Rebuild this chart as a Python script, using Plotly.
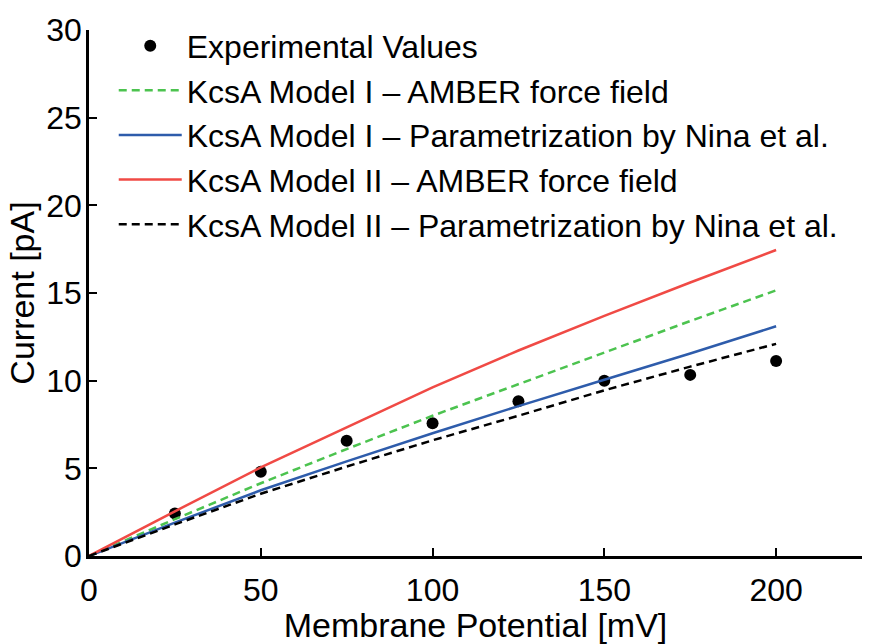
import plotly.graph_objects as go

potential_exp = [25, 50, 75, 100, 125, 150, 175, 200]
current_exp = [2.42, 4.8, 6.57, 7.57, 8.83, 10.0, 10.33, 11.12]

potential_model = [0, 25, 50, 75, 100, 125, 150, 175, 200]
model1_amber = [0, 2.1, 4.15, 6.1, 8.0, 9.8, 11.6, 13.4, 15.15]
model1_nina = [0, 1.9, 3.75, 5.4, 7.0, 8.55, 10.05, 11.55, 13.1]
model2_amber = [0, 2.55, 5.05, 7.35, 9.62, 11.72, 13.7, 15.6, 17.45]
model2_nina = [0, 1.8, 3.55, 5.1, 6.6, 8.0, 9.45, 10.8, 12.1]

names = ["Experimental Values",
         "KcsA Model I \u2013 AMBER force field",
         "KcsA Model I \u2013 Parametrization by Nina et al.",
         "KcsA Model II \u2013 AMBER force field",
         "KcsA Model II \u2013 Parametrization by Nina et al."]

FONT = "Liberation Sans, Arial, Helvetica, sans-serif"

fig = go.Figure()
fig.add_trace(go.Scatter(x=potential_exp, y=current_exp, mode="markers", name=names[0],
                         marker=dict(color="black", size=12)))
fig.add_trace(go.Scatter(x=potential_model, y=model1_amber, mode="lines", name=names[1],
                         line=dict(color="#4cc34f", width=2.5, dash="8px,5px")))
fig.add_trace(go.Scatter(x=potential_model, y=model1_nina, mode="lines", name=names[2],
                         line=dict(color="#2e5cab", width=2.5)))
fig.add_trace(go.Scatter(x=potential_model, y=model2_amber, mode="lines", name=names[3],
                         line=dict(color="#f04a45", width=2.5)))
fig.add_trace(go.Scatter(x=potential_model, y=model2_nina, mode="lines", name=names[4],
                         line=dict(color="black", width=2.5, dash="8px,5px")))

fig.update_layout(
    width=877, height=644,
    margin=dict(l=89, r=15, t=21, b=73),
    plot_bgcolor="white", paper_bgcolor="white",
    font=dict(family=FONT, size=32, color="black"),
    showlegend=True,
    legend=dict(x=0.032, y=1.022, xanchor="left", yanchor="top", itemwidth=63,
                bgcolor="rgba(0,0,0,0)", font=dict(size=32), tracegroupgap=0),
    xaxis=dict(range=[0, 225], tickvals=[0, 50, 100, 150, 200], showgrid=False, zeroline=False,
               showline=True, linecolor="black", linewidth=2.5, ticks="inside", ticklen=8,
               tickwidth=2, tickcolor="black", ticklabelstandoff=4,
               title=dict(text="Membrane Potential [mV]", standoff=0, font=dict(size=34))),
    yaxis=dict(range=[0, 30], tickvals=[0, 5, 10, 15, 20, 25, 30], showgrid=False, zeroline=False,
               showline=True, linecolor="black", linewidth=2.5, ticks="inside", ticklen=8,
               tickwidth=2, tickcolor="black", ticklabelstandoff=-2,
               title=dict(text="Current [pA]", standoff=2, font=dict(size=34))),
)

fig.write_html("out.html")
